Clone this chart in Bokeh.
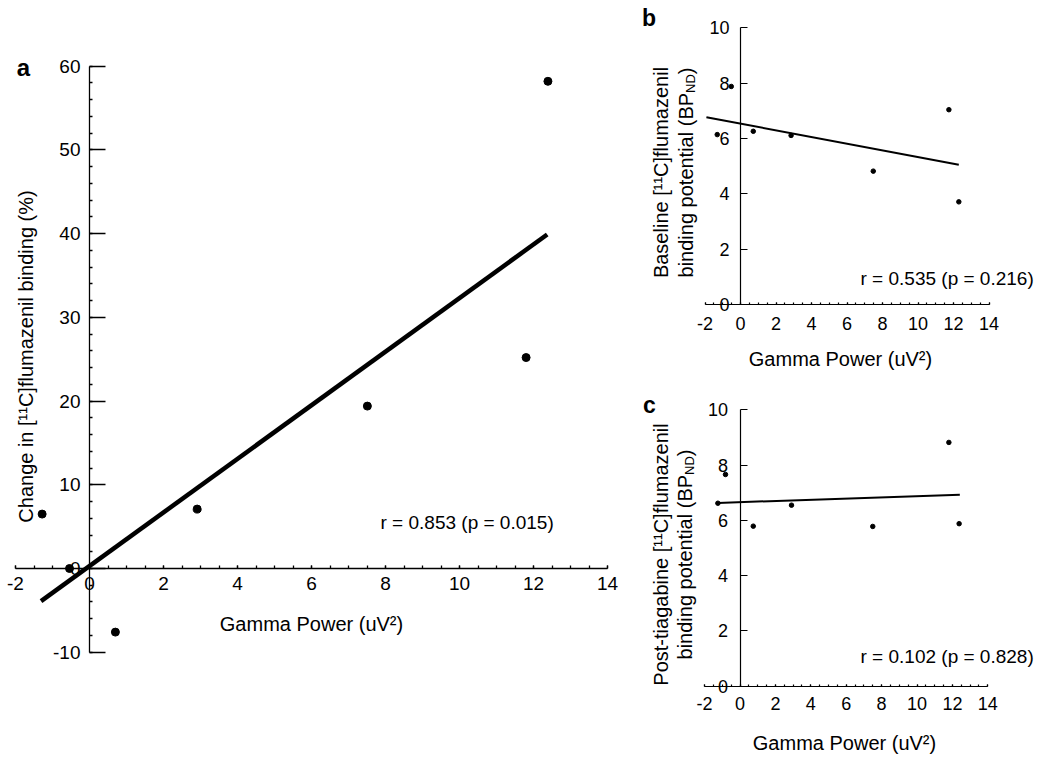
import math
from bokeh.plotting import figure
from bokeh.models import Range1d, LinearAxis, FixedTicker, Label
from bokeh.layouts import row, column
from bokeh.embed import file_html
from bokeh.resources import INLINE

# ---------------- data ----------------
# panel a: change in [11C]flumazenil binding (%) vs gamma power (uV^2)
gamma_a = [-1.28, -0.54, 0.70, 2.91, 7.51, 11.80, 12.39]
change_pct = [6.5, 0.0, -7.6, 7.1, 19.4, 25.2, 58.2]
fit_a_x = [-1.31, 12.37]
fit_a_y = [-3.9, 39.9]

# panel b: baseline binding potential
gamma_b = [-1.31, -0.52, 0.72, 2.85, 7.48, 11.74, 12.30]
baseline_bp = [6.14, 7.88, 6.26, 6.11, 4.82, 7.04, 3.71]
fit_b_x = [-1.92, 12.30]
fit_b_y = [6.77, 5.05]

# panel c: post-tiagabine binding potential
gamma_c = [-1.25, -0.82, 0.75, 2.91, 7.50, 11.80, 12.38]
post_bp = [6.62, 7.66, 5.79, 6.55, 5.78, 8.82, 5.88]
fit_c_x = [-1.25, 12.42]
fit_c_y = [6.63, 6.93]

x_ticks = [-2, 0, 2, 4, 6, 8, 10, 12, 14]
ya_ticks = [-10, 0, 10, 20, 30, 40, 50, 60]
ybc_ticks = [0, 2, 4, 6, 8, 10]

r_text_a = "r = 0.853 (p = 0.015)"
r_text_b = "r = 0.535 (p = 0.216)"
r_text_c = "r = 0.102 (p = 0.828)"
x_title = "Gamma Power (uV\u00b2)"
ya_title = "Change in [\u00b9\u00b9C]flumazenil binding (%)"
yb_title1 = "Baseline [\u00b9\u00b9C]flumazenil"
yc_title1 = "Post-tiagabine [\u00b9\u00b9C]flumazenil"
y_title2 = "binding potential (BP"

FONT = "Liberation Sans"
BASE_FIX = 7  # measured offset between intended and rendered text baseline


def hyphen_labels(ticks):
    # plain hyphen-minus for negative tick labels, as in the reference
    return {t: str(t) for t in ticks if t < 0}


class Panel:
    """A figure whose frame fills the whole figure; page-pixel helpers for text layout."""

    def __init__(self, width, height, left, top, x0px, xs, y0px, ys):
        self.x0px, self.xs, self.y0px, self.ys = x0px, xs, y0px, ys
        self.p = figure(
            width=width, height=height,
            x_range=Range1d((left - x0px) / xs, (left + width - x0px) / xs),
            y_range=Range1d((y0px - (top + height)) / ys, (y0px - top) / ys),
            x_axis_type=None, y_axis_type=None, tools="",
            toolbar_location=None, output_backend="svg",
            min_border=0, outline_line_color=None,
            background_fill_color="white", border_fill_color="white",
        )

    def dx(self, px):
        return (px - self.x0px) / self.xs

    def dy(self, py):
        return (self.y0px - py) / self.ys

    def text(self, px, py, txt, size, align="left", angle=0.0, style="normal"):
        if angle:
            px -= BASE_FIX
        else:
            py -= BASE_FIX
        self.p.add_layout(Label(
            x=self.dx(px), y=self.dy(py), text=txt, text_font=FONT,
            text_font_size=f"{size}px", text_align=align,
            text_baseline="alphabetic", angle=angle,
            text_font_style=style, text_color="black"))

    def axes(self, ybounds, yticks, yminor, xminor, fs, xstand, ystand,
             ytick_in, yminor_in, xtick_in, xminor_in, lw):
        xa = LinearAxis(fixed_location=0, bounds=(-2, 14),
                        ticker=FixedTicker(ticks=x_ticks, minor_ticks=xminor),
                        major_label_overrides=hyphen_labels(x_ticks))
        ya = LinearAxis(fixed_location=0, bounds=ybounds,
                        ticker=FixedTicker(ticks=yticks, minor_ticks=yminor),
                        major_label_overrides=hyphen_labels(yticks))
        for ax, tin, min_in, st in ((xa, xtick_in, xminor_in, xstand),
                                    (ya, ytick_in, yminor_in, ystand)):
            ax.major_tick_in = tin
            ax.major_tick_out = 0
            ax.minor_tick_in = min_in
            ax.minor_tick_out = 0
            ax.major_label_standoff = st
            ax.major_label_text_font = FONT
            ax.major_label_text_font_size = fs
            ax.major_label_text_color = "black"
            ax.axis_line_color = "black"
            ax.major_tick_line_color = "black"
            ax.minor_tick_line_color = "black"
            ax.axis_line_width = lw
            ax.major_tick_line_width = lw
            ax.minor_tick_line_width = lw
        self.p.add_layout(xa, "below")
        self.p.add_layout(ya, "left")


ROT = math.pi / 2
AW = {"b": 556, "i": 222, "n": 556, "d": 556, "g": 556, " ": 278, "p": 556,
      "o": 556, "t": 278, "e": 556, "a": 556, "l": 222, "(": 333, "B": 667,
      "P": 667, "N": 722, "D": 722, ")": 333}


def width(s, size):
    return sum(AW[c] for c in s) * size / 1000.0


def y_title_bp(panel, base_x, center_y, size=20, sub=13):
    w1 = width(y_title2, size)
    w2 = width("ND", sub)
    w3 = width(")", size)
    y0 = center_y + (w1 + w2 + w3) / 2
    panel.text(base_x, y0, y_title2, size, angle=ROT)
    panel.text(base_x + 4.5, y0 - w1, "ND", sub, angle=ROT)
    panel.text(base_x, y0 - w1 - w2, ")", size, angle=ROT)


# ---------------- panel a ----------------
A = Panel(620, 758, 0, 0, 89.0, 37.0, 568.0, 8.371)
A.axes((-10, 60), ya_ticks, [v for v in range(-10, 61, 2)],
       [v / 2 for v in range(-4, 29)], "19px", 8, 9, 16, 3, 3, 3, 1.3)
A.p.line(fit_a_x, fit_a_y, line_width=4.5, line_color="black")
A.p.scatter(gamma_a, change_pct, size=8, color="black")
A.text(23, 74, "a", 24, align="center", style="bold")
A.text(32, 356, ya_title, 20, align="center", angle=ROT)
A.text(311, 630, x_title, 20, align="center")
A.text(380, 529, r_text_a, 19)

# ---------------- panel b ----------------
B = Panel(430, 380, 620, 0, 740.0, 17.75, 304.0, 27.67)
B.axes((0, 10), ybc_ticks, [], [v / 2 for v in range(-4, 29)], "18px", 12, 11,
       7, 0, 2, 2, 1.2)
B.p.line(fit_b_x, fit_b_y, line_width=2, line_color="black")
B.p.scatter(gamma_b, baseline_bp, size=4.5, color="black")
B.text(648.5, 24, "b", 23, align="center", style="bold")
B.text(667, 172, yb_title1, 20, align="center", angle=ROT)
y_title_bp(B, 692, 172)
B.text(840, 365, x_title, 20, align="center")
B.text(860, 285, r_text_b, 19)

# ---------------- panel c ----------------
C = Panel(430, 378, 620, 380, 739.5, 17.7, 685.7, 27.64)
C.axes((0, 10), ybc_ticks, [], [v / 2 for v in range(-4, 29)], "18px", 11, 12,
       7, 0, 2, 2, 1.2)
C.p.line(fit_c_x, fit_c_y, line_width=2, line_color="black")
C.p.scatter(gamma_c, post_bp, size=4.5, color="black")
C.text(649, 411, "c", 23, align="center", style="bold")
C.text(667, 554, yc_title1, 20, align="center", angle=ROT)
y_title_bp(C, 691, 554)
C.text(844, 749, x_title, 20, align="center")
C.text(860, 662.7, r_text_c, 19)

layout = row(A.p, column(B.p, C.p))
open("out.html", "w").write(file_html(layout, INLINE))
